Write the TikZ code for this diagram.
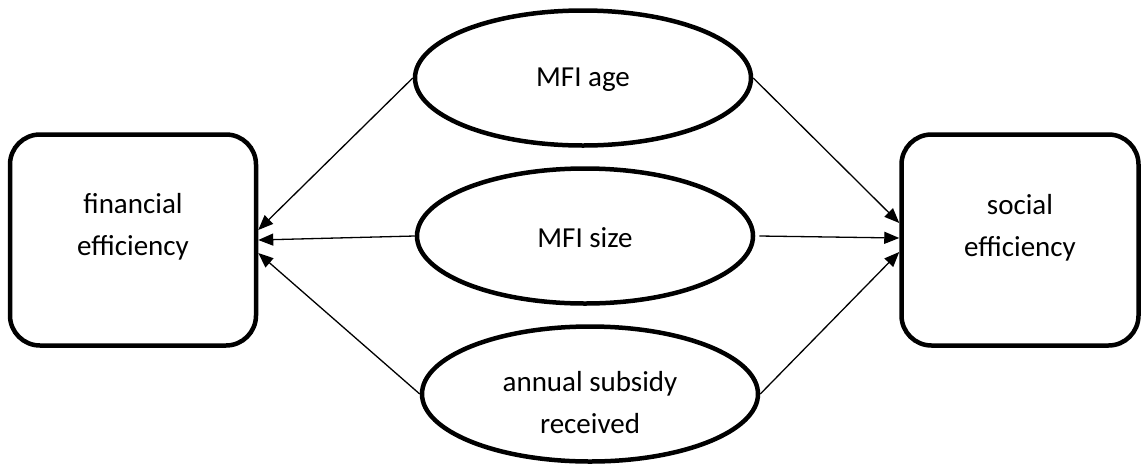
\documentclass[tikz,border=0pt]{standalone}
\usepackage{fontspec}
\setmainfont{Carlito}
\usetikzlibrary{shapes.geometric,arrows.meta}
\begin{document}
\begin{tikzpicture}[x=1pt,y=-1pt,
  box/.style={draw, line width=4.5pt, rounded corners=30pt, minimum height=211pt, inner sep=0pt},
  oval/.style={draw, ellipse, line width=4.5pt, minimum width=336pt, minimum height=135pt, inner sep=0pt},
  lbl/.style={font=\fontsize{29}{42}\selectfont, align=center, inner sep=0pt},
  arr/.style={line width=1.3pt, -{Triangle[length=15pt,width=12pt]}}]
\path[use as bounding box] (0,0) rectangle (1142,464);
% boxes
\node[box, minimum width=246pt] (fin) at (133,240) {};
\node[box, minimum width=237pt] (soc) at (1020,240) {};
\node[lbl] (fintxt) at (133,227) {financial\\efficiency};
\node[lbl] (soctxt) at (1020,228) {social\\efficiency};
% ellipses
\node[oval] (age) at (583,78) {};
\node[oval] (size) at (585,236) {};
\node[oval] (sub) at (590,394) {};
\node[lbl] (agetxt) at (583,80) {MFI age};
\node[lbl] (sizetxt) at (585,238) {MFI size};
\node[lbl] (subtxt) at (590,403) {annual subsidy\\received};
% connectors
\draw[arr] (age.west) -- ([yshift=10pt]fin.east);
\draw[arr] (size.west) -- (fin.east);
\draw[arr] (sub.west) -- ([yshift=-13pt]fin.east);
\draw[arr] (age.east) -- ([yshift=17pt]soc.west);
\draw[arr] ([xshift=4pt]size.east) -- ([yshift=2pt]soc.west);
\draw[arr] (sub.east) -- ([yshift=-12pt]soc.west);
\end{tikzpicture}
\end{document}
